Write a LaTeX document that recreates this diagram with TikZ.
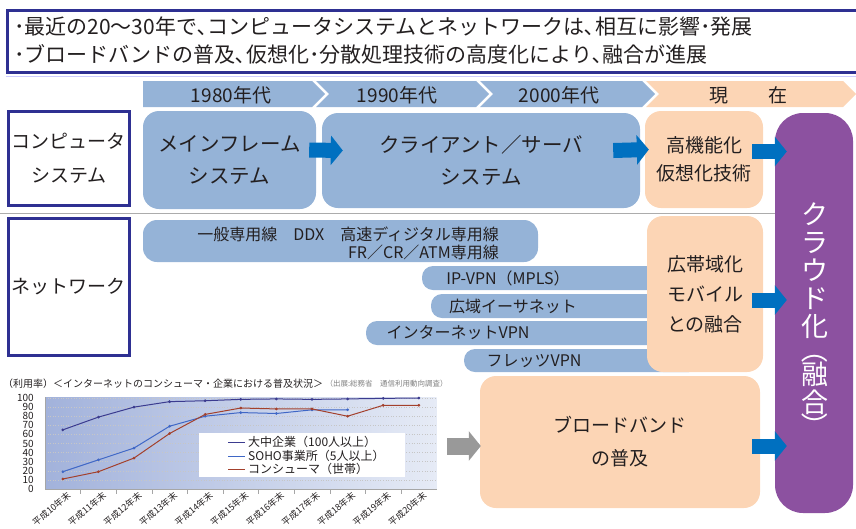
\documentclass[tikz,border=0pt]{standalone}
\usepackage{fontspec}
\setmainfont{Noto Sans CJK JP}
\usetikzlibrary{arrows.meta, calc}

\definecolor{navy}{HTML}{2E3092}
\definecolor{textgray}{HTML}{231F20}
\definecolor{boxblue}{HTML}{95B3D7}
\definecolor{boxorange}{HTML}{FCD5B5}
\definecolor{arrowblue}{HTML}{0070C0}
\definecolor{arrowgray}{HTML}{999999}
\definecolor{cloudpurple}{HTML}{8C51A0}
\definecolor{plotleft}{HTML}{A2B2DB}
\definecolor{plotright}{HTML}{E6EBF6}
\definecolor{daichu}{HTML}{3B3B8F}
\definecolor{soho}{HTML}{3F67C6}
\definecolor{consumer}{HTML}{A3402C}

\newcommand{\fs}[2]{\fontsize{#1}{#2}\selectfont}
\newcommand{\vparen}[1]{\rotatebox[origin=c]{-90}{#1}}

\tikzset{
  topbox/.style={draw=navy, line width=3pt, minimum width=850pt, minimum height=62pt, text width=836pt, inner xsep=7pt, align=left, text=textgray, font=\fs{21}{28}},
  rowlabel/.style={draw=navy, line width=3pt, fill=white, text=textgray, minimum width=119pt, align=center, font=\fs{19}{34}},
  bluebox/.style={fill=boxblue, rounded corners=16pt, align=center, text=textgray, font=\fs{20.5}{32}},
  orangebox/.style={fill=boxorange, rounded corners=16pt, align=center, text=textgray, font=\fs{19}{28}},
  cloudbox/.style={fill=cloudpurple, rounded corners=28pt, minimum width=78pt, minimum height=400pt},
  cloudtext/.style={align=center, text=white, inner sep=0pt, font=\fs{27}{28}},
  bar/.style={fill=boxblue, rounded corners=11pt, minimum height=24pt, inner sep=0pt},
  bartext/.style={text=textgray, inner sep=0pt, font=\fs{16}{18}},
  tltext/.style={text=textgray, font=\fs{19}{19}},
  fat/.style={line width=15pt, arrowblue, -{Triangle[length=12pt, width=29pt]}},
  sepline/.style={draw=gray!65, line width=1pt},
  gridline/.style={gray!45, dotted, line width=0.6pt},
  axisline/.style={gray!70, line width=0.6pt},
  ytick/.style={anchor=east, text=textgray, inner sep=0pt, font=\fs{10}{10}},
  xtick/.style={anchor=north east, rotate=40, text=textgray, inner sep=0pt, font=\fs{9}{9}},
  series/.style={line width=1pt, mark=*, mark size=0.8pt},
  legendtext/.style={anchor=west, text=textgray, inner sep=0pt, font=\fs{12}{12}}
}

\begin{document}
\begin{tikzpicture}[x=1pt, y=-1pt]
    \useasboundingbox (0, 0) rectangle (856, 528);
    \node [topbox] (intro) at (432, 41) {･最近の20～30年で､コンピュータシステムとネットワークは､相互に影響･発展\\･ブロードバンドの普及､仮想化･分散処理技術の高度化により､融合が進展};
    \draw [blue!20, line width=1.2pt] ([yshift=-3pt] intro.south west) -- ([yshift=-3pt] intro.south east);

    \fill [boxblue] (143, 81) -- (312, 81) -- (325, 94) -- (312, 107) -- (143, 107) -- cycle;
    \fill [boxblue] (316, 81) -- (476, 81) -- (489, 94) -- (476, 107) -- (316, 107) -- (329, 94) -- cycle;
    \fill [boxblue] (480, 81) -- (642, 81) -- (655, 94) -- (642, 107) -- (480, 107) -- (493, 94) -- cycle;
    \fill [boxorange] (646, 81) -- (843, 81) -- (856, 94) -- (843, 107) -- (646, 107) -- (659, 94) -- cycle;
    \node [tltext] (y1980) at (231, 95) {1980年代};
    \node [tltext] (y1990) at (397, 95) {1990年代};
    \node [tltext] (y2000) at (559, 95) {2000年代};
    \node [tltext] (now) at (748, 95) {現\hspace{40pt}在};

    \node [rowlabel, minimum height=94pt] (computer) at (69, 158.5) {コンピュータ\\システム};
    \node [rowlabel, minimum height=137pt] (network) at (69, 287) {ネットワーク};
    \draw [sepline] (0, 213) -- (775, 213);

    \node [bluebox, minimum width=173pt, minimum height=98pt] (mainframe) at (229.5, 160) {メインフレーム\\システム};
    \node [bluebox, minimum width=318pt, minimum height=95pt] (clientserver) at (481, 160.5) {クライアント／サーバ\\システム};
    \node [orangebox, minimum width=118pt, minimum height=97pt] (virtual) at (704, 159.5) {高機能化\\仮想化技術};
    \node [cloudbox] (cloud) at (814, 313) {};
    \node [cloudtext] (cloud text) at (815, 321) {ク\\ラ\\ウ\\ド\\化\\[-4pt]\vparen{（}\\[-4pt]融\\合\\[-4pt]\vparen{）}};

    \node [bar, minimum width=395pt, minimum height=42pt, rounded corners=14pt] (leased) at (340.5, 241) {};
    \node [bartext, anchor=east, align=right] (leased text) at (499, 243) {一般専用線　DDX　高速ディジタル専用線\\FR／CR／ATM専用線};
    \node [bar, minimum width=278pt] (ipvpn) at (561, 278) {};
    \node [bartext] (ipvpn text) at (508, 278) {IP-VPN（MPLS）};
    \node [bar, minimum width=269pt] (ether) at (565.5, 306) {};
    \node [bartext] (ether text) at (513, 306) {広域イーサネット};
    \node [bar, minimum width=334pt] (inetvpn) at (533, 333) {};
    \node [bartext] (inetvpn text) at (458, 333) {インターネットVPN};
    \node [bar, minimum width=236pt, minimum height=23pt] (flets) at (582, 360.5) {};
    \node [bartext] (flets text) at (534, 361) {フレッツVPN};
    \node [orangebox, minimum width=116pt, minimum height=156pt, font=\fs{19}{30}] (wideband) at (705, 294) {広帯域化\\モバイル\\との融合};

    \node [orangebox, minimum width=280pt, minimum height=132pt, font=\fs{19}{33}] (broadband) at (620, 442) {ブロードバンド\\の普及};

    \draw [fat] ($(mainframe.east) + (-7, -10)$) -- ($(clientserver.west) + (21, -10)$);
    \draw [fat] ($(clientserver.east) + (-27, -10)$) -- ($(virtual.west) + (4, -10)$);
    \draw [fat] ($(virtual.east) + (-11, -8)$) -- ($(virtual.east -| cloud.west) + (12, -8)$);
    \draw [fat] ($(wideband.east) + (-11, 6)$) -- ($(wideband.east -| cloud.west) + (12, 6)$);
    \draw [fat] ($(broadband.east) + (-8, 4)$) -- ($(broadband.east -| cloud.west) + (12, 4)$);
    \coordinate (chart) at (447, 446);
    \draw [fat, arrowgray, line width=17pt] (chart) -- ($(broadband.west) + (1, 4)$);

    \node [anchor=west, text=textgray, inner sep=0pt, font=\fs{10}{10}] (title) at (3, 384) {（利用率）＜インターネットのコンシューマ・企業における普及状況＞};
    \node [anchor=west, text=gray, inner sep=0pt, font=\fs{7.5}{7.5}] (source) at ($(title.east) + (2, 0)$) {（出展:総務省　通信利用動向調査）};

    \begin{scope}[shift={(62.8, 489)}, x=35.6pt, y=0.91pt]
        \shade [left color=plotleft, right color=plotright] (-0.5, 0) rectangle (10.5, 101);
        \draw [gridline] (-0.5, 10) -- (10.5, 10) (-0.5, 20) -- (10.5, 20) (-0.5, 30) -- (10.5, 30) (-0.5, 40) -- (10.5, 40) (-0.5, 50) -- (10.5, 50);
        \draw [gridline] (-0.5, 60) -- (10.5, 60) (-0.5, 70) -- (10.5, 70) (-0.5, 80) -- (10.5, 80) (-0.5, 90) -- (10.5, 90) (-0.5, 100) -- (10.5, 100);
        \draw [axisline] (-0.5, 101) -- (-0.5, 0) -- (10.5, 0);
        \draw [axisline] (0.5, 0) -- (0.5, -6) (1.5, 0) -- (1.5, -6) (2.5, 0) -- (2.5, -6) (3.5, 0) -- (3.5, -6) (4.5, 0) -- (4.5, -6);
        \draw [axisline] (5.5, 0) -- (5.5, -6) (6.5, 0) -- (6.5, -6) (7.5, 0) -- (7.5, -6) (8.5, 0) -- (8.5, -6) (9.5, 0) -- (9.5, -6);
        \node [ytick] (v0) at (-0.81, 0) {0};
        \node [ytick] (v10) at (-0.81, 10) {10};
        \node [ytick] (v20) at (-0.81, 20) {20};
        \node [ytick] (v30) at (-0.81, 30) {30};
        \node [ytick] (v40) at (-0.81, 40) {40};
        \node [ytick] (v50) at (-0.81, 50) {50};
        \node [ytick] (v60) at (-0.81, 60) {60};
        \node [ytick] (v70) at (-0.81, 70) {70};
        \node [ytick] (v80) at (-0.81, 80) {80};
        \node [ytick] (v90) at (-0.81, 90) {90};
        \node [ytick] (v100) at (-0.81, 100) {100};
        \node [xtick] (h10) at (0.1, -2) {平成10年末};
        \node [xtick] (h11) at (1.1, -2) {平成11年末};
        \node [xtick] (h12) at (2.1, -2) {平成12年末};
        \node [xtick] (h13) at (3.1, -2) {平成13年末};
        \node [xtick] (h14) at (4.1, -2) {平成14年末};
        \node [xtick] (h15) at (5.1, -2) {平成15年末};
        \node [xtick] (h16) at (6.1, -2) {平成16年末};
        \node [xtick] (h17) at (7.1, -2) {平成17年末};
        \node [xtick] (h18) at (8.1, -2) {平成18年末};
        \node [xtick] (h19) at (9.1, -2) {平成19年末};
        \node [xtick] (h20) at (10.1, -2) {平成20年末};
        \draw [series, daichu] plot coordinates {(0, 65) (1, 79) (2, 90) (3, 96) (4, 97) (5, 98.5) (6, 99) (7, 98.5) (8, 99) (9, 99.6) (10, 100)};
        \draw [series, soho] plot coordinates {(0, 19) (1, 32) (2, 45) (3, 69) (4, 80) (5, 84) (6, 83) (7, 87) (8, 87)};
        \draw [series, consumer] plot coordinates {(0, 11) (1, 19) (2, 34) (3, 61) (4, 82) (5, 89) (6, 88) (7, 88) (8, 80) (9, 92) (10, 92)};
    \end{scope}

    \node [fill=white, minimum width=206pt, minimum height=44pt] (legend) at (302, 455) {};
    \draw [daichu, line width=1pt] (228, 442) -- (245, 442);
    \draw [soho, line width=1pt] (228, 456) -- (245, 456);
    \draw [consumer, line width=1pt] (228, 469) -- (245, 469);
    \node [legendtext] (daichu text) at (248, 442) {大中企業（100人以上）};
    \node [legendtext] (soho text) at (248, 456) {SOHO事業所（5人以上）};
    \node [legendtext] (consumer text) at (248, 469) {コンシューマ（世帯）};
\end{tikzpicture}
\end{document}
